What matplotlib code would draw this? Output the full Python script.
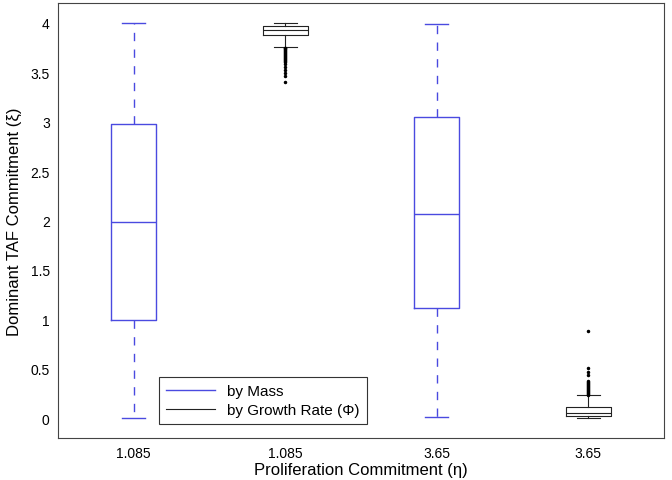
import matplotlib
matplotlib.use('Agg')
import matplotlib.pyplot as plt
from matplotlib.lines import Line2D

plt.rcParams['font.family'] = ['Liberation Sans', 'DejaVu Sans']

# box statistics
tick_labels = ['1.085', '1.085', '3.65', '3.65']

mass_pos = [1, 3]
mass_lo = [0.0, 0.01]
mass_q1 = [0.99, 1.11]
mass_med = [1.98, 2.07]
mass_q3 = [2.98, 3.05]
mass_hi = [4.0, 3.99]

rate_pos = [2, 4]
rate_lo = [3.76, 0.0]
rate_q1 = [3.88, 0.02]
rate_med = [3.93, 0.05]
rate_q3 = [3.97, 0.11]
rate_hi = [4.0, 0.23]
rate_fliers = [
    [3.745, 3.74, 3.73, 3.72, 3.71, 3.70, 3.69, 3.68, 3.67, 3.66, 3.65,
     3.64, 3.63, 3.62, 3.61, 3.60, 3.58, 3.55, 3.52, 3.49, 3.46, 3.40],
    [0.24, 0.25, 0.26, 0.27, 0.28, 0.29, 0.30, 0.31, 0.32, 0.33, 0.34,
     0.35, 0.36, 0.37, 0.38, 0.44, 0.47, 0.51, 0.88],
]

blue = '#4a4ae0'
dark = '#222222'

fig = plt.figure(figsize=(6.72, 4.81), dpi=100)
ax = fig.add_axes([58/672, 42/481, 606/672, 435/481])

mass_stats = []
for i in range(len(mass_pos)):
    mass_stats.append({'whislo': mass_lo[i], 'q1': mass_q1[i], 'med': mass_med[i],
                       'q3': mass_q3[i], 'whishi': mass_hi[i], 'fliers': []})
rate_stats = []
for i in range(len(rate_pos)):
    rate_stats.append({'whislo': rate_lo[i], 'q1': rate_q1[i], 'med': rate_med[i],
                       'q3': rate_q3[i], 'whishi': rate_hi[i], 'fliers': rate_fliers[i]})

ax.bxp(mass_stats, positions=mass_pos, widths=0.3, showfliers=False,
       boxprops=dict(color=blue, lw=1.0),
       medianprops=dict(color=blue, lw=1.0),
       whiskerprops=dict(color=blue, lw=1.0, ls=(0, (6, 6))),
       capprops=dict(color=blue, lw=1.0), capwidths=0.15)

ax.bxp(rate_stats, positions=rate_pos, widths=0.3,
       boxprops=dict(color=dark, lw=0.8),
       medianprops=dict(color=dark, lw=0.8),
       whiskerprops=dict(color=dark, lw=0.8),
       capprops=dict(color=dark, lw=0.8), capwidths=0.15,
       flierprops=dict(marker='.', markersize=3, markerfacecolor='black',
                       markeredgecolor='black', ls='none'))

ax.set_xlim(0.5, 4.5)
ax.set_ylim(-0.2, 4.2)
ax.set_xticks([1, 2, 3, 4])
ax.set_xticklabels(tick_labels)
ax.set_yticks([0, 0.5, 1, 1.5, 2, 2.5, 3, 3.5, 4])
ax.set_yticklabels(['0', '0.5', '1', '1.5', '2', '2.5', '3', '3.5', '4'])
ax.tick_params(direction='in', length=0, labelsize=10, pad=6)
for s in ax.spines.values():
    s.set_color('#444444')
    s.set_linewidth(0.8)

ax.set_xlabel('Proliferation Commitment (\u03b7)', fontsize=12, labelpad=1)
ax.set_ylabel('Dominant TAF Commitment (\u03be)', fontsize=12, labelpad=6)

handles = [Line2D([], [], color=blue, lw=1.0), Line2D([], [], color=dark, lw=0.8)]
leg = ax.legend(handles, ['by Mass', 'by Growth Rate (\u03a6)'], loc='lower left',
                bbox_to_anchor=(0.167, 0.032), borderaxespad=0, fontsize=11,
                handlelength=3.2, fancybox=False, framealpha=1,
                edgecolor='#333333', borderpad=0.45, labelspacing=0.35)
leg.get_frame().set_linewidth(0.8)

plt.savefig('out.png', dpi=100)
